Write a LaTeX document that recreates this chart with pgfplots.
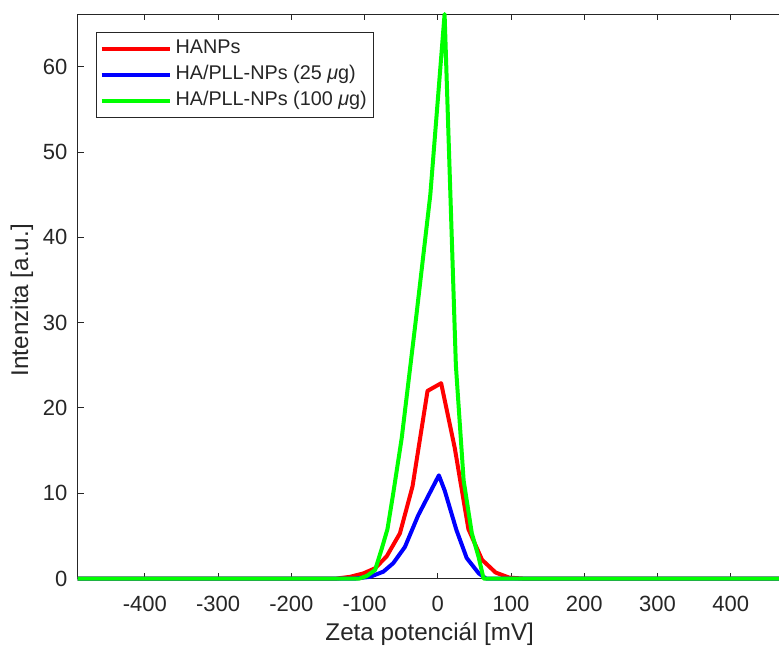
\documentclass[border=0pt]{standalone}
\usepackage{pgfplots}
\pgfplotsset{compat=1.18}
\usepackage{fontspec}
\setmainfont{Liberation Sans}
\definecolor{axgray}{RGB}{38,38,38}
\definecolor{cred}{RGB}{255,0,0}
\definecolor{cblue}{RGB}{0,0,255}
\definecolor{cgreen}{RGB}{0,255,0}
\begin{document}
\begin{tikzpicture}
\begin{axis}[
  scale only axis,
  width=352.22pt, height=282.25pt,
  xmin=-492, xmax=470, ymin=0, ymax=66.2,
  clip=false,
  axis line style={axgray, line width=0.5pt},
  every tick/.style={axgray, line width=0.5pt},
  major tick length=3pt,
  tick align=inside,
  ytick pos=left,
  xtick={-400,-300,-200,-100,0,100,200,300,400},
  xticklabels={-400,-300,-200,-100,0,100,200,300,400},
  ytick={0,10,20,30,40,50,60},
  yticklabels={0,10,20,30,40,50,60},
  tick label style={font=\fontsize{11}{13}\selectfont, text=axgray},
  xticklabel style={yshift=-5.2pt},
  yticklabel style={xshift=-1.5pt},
  every axis x label/.style={at={(axis description cs:0.5,-0.098)}, anchor=center},
  every axis y label/.style={at={(axis description cs:-0.0788,0.493)}, rotate=90, anchor=center},
  label style={font=\fontsize{12.1}{14}\selectfont, text=axgray},
  xlabel={Zeta potenciál [mV]},
  ylabel={Intenzita [a.u.]},
  legend style={at={(0.02626,0.968)}, anchor=north west, draw=axgray, line width=0.5pt,
    font=\fontsize{9.9}{12}\selectfont, text=axgray, inner sep=1.5pt, row sep=0pt,
    nodes={inner xsep=2pt, inner ysep=1.75pt, text height=7.2pt, text depth=2.4pt}},
  legend cell align=left,
  legend image code/.code={\draw[#1] (0pt,0pt) -- (34pt,0pt);},
  every axis plot/.append style={line width=2pt, line join=round},
]
\addplot[cred] coordinates {
(-492,0) (-138,0) (-119.7,0.2) (-101.6,0.6) (-85.7,1.2) (-69.8,2.6) (-51.7,5.3) (-34.5,10.8)
(-14,22.0) (4.6,22.9) (23.2,15.3) (41.8,5.8) (60.4,2.2) (79,0.7) (97.6,0.1) (116,0) (470,0)};
\addlegendentry{HANPs}
\addplot[cblue] coordinates {
(-492,0) (-112,0) (-92.5,0.2) (-74.4,0.8) (-60.8,1.8) (-44.9,3.7) (-26.8,7.4)
(1.5,12.1) (9.5,10.3) (25.4,5.7) (39.5,2.4) (56,0.6) (66,0) (470,0)};
\addlegendentry{HA/PLL-NPs (25 \textit{μ}g)}
\addplot[cgreen] coordinates {
(-492,0) (-107,0) (-97,0.3) (-85.6,1.0) (-76.5,3.5) (-68.7,5.8) (-60.8,10.0) (-49.2,16.5)
(-29.7,30.5) (-10.2,45) (9.3,66.2) (24.7,25) (35.3,11.5) (46.5,5.3) (55.5,2.6) (62.5,0) (470,0)};
\addlegendentry{HA/PLL-NPs (100 \textit{μ}g)}
\end{axis}
\pgfresetboundingbox
\path[use as bounding box] ([shift={(-38.75pt,-33.25pt)}]current axis.south west) rectangle ([shift={(350.75pt,289.25pt)}]current axis.south west);
\end{tikzpicture}
\end{document}
